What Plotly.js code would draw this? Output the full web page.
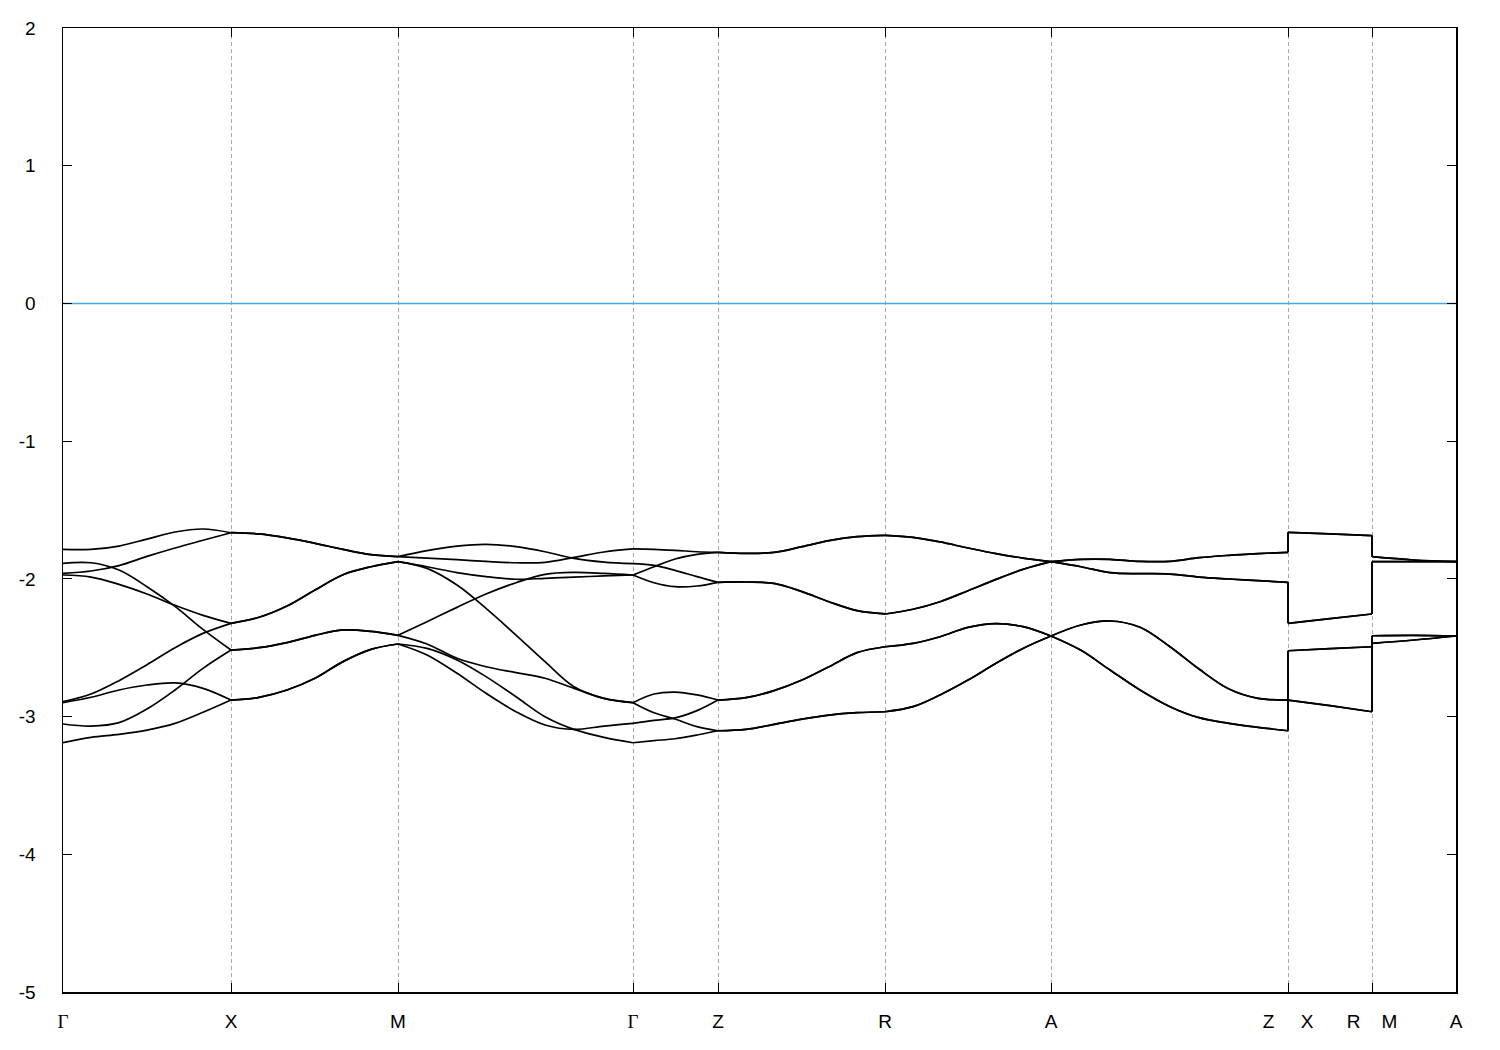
<!DOCTYPE html>
<html>
<head>
<meta charset="utf-8">
<script src="https://cdn.plot.ly/plotly-3.0.1.min.js"></script>
<style>html,body{margin:0;padding:0;background:#fff;}#chart{width:1500px;height:1050px;}</style>
</head>
<body>
<div id="chart"></div>
<script>
// High-symmetry points along the k-path (path length units)
const ticksK = [0, 168, 335, 570, 655, 822, 988, 1225, 1309, 1393];
const GAMMA = '<span style="font-family:Liberation Serif, DejaVu Serif, serif">Γ</span>';
const tickLabels = [GAMMA, 'X', 'M', GAMMA, 'Z', 'R', 'A', 'Z\u00a0\u00a0\u00a0\u00a0\u00a0X', 'R\u00a0\u00a0\u00a0\u00a0M', 'A'];
const yTickVals = [-5, -4, -3, -2, -1, 0, 1, 2];
const yTickText = ['-5', '-4', '-3', '-2', '-1', '0', '1', '2'];
const fermiLevel = 0;

// k samples (a repeated value marks a discontinuity Z|X and R|M)
const kPath = [0,28,56,84,112,140,168, 196,224,252,280,308,335, 364,394,423,453,482,511,541,570,
  591,612,634,655, 683,711,739,766,794,822, 850,877,905,933,960,988,
  1018,1047,1077,1107,1136,1166,1195,1225, 1225,1267,1309, 1309,1351,1393];

// band energies (eV)
const bandA = [-1.786,-1.786,-1.762,-1.711,-1.660,-1.638,-1.665,
  -1.674,-1.703,-1.742,-1.786,-1.824,-1.839,
  -1.795,-1.762,-1.749,-1.766,-1.803,-1.851,-1.878,-1.890,
  -1.902,-1.938,-1.984,-2.025,
  -2.023,-2.033,-2.093,-2.166,-2.231,-2.255,
  -2.221,-2.166,-2.086,-2.004,-1.931,-1.875,
  -1.858,-1.858,-1.873,-1.873,-1.846,-1.829,-1.817,-1.807,
  -1.662,-1.674,-1.686,
  -1.839,-1.863,-1.875];
const bandB = [-1.960,-1.943,-1.904,-1.837,-1.776,-1.720,-1.665,
  -1.674,-1.703,-1.742,-1.786,-1.824,-1.839,
  -1.849,-1.861,-1.873,-1.883,-1.880,-1.844,-1.805,-1.783,
  -1.786,-1.793,-1.803,-1.808,
  -1.815,-1.808,-1.766,-1.723,-1.694,-1.684,
  -1.699,-1.732,-1.776,-1.817,-1.849,-1.875,
  -1.912,-1.955,-1.962,-1.965,-1.987,-2.001,-2.013,-2.025,
  -2.323,-2.289,-2.255,
  -1.875,-1.875,-1.875];
const bandC = [-1.887,-1.883,-1.936,-2.057,-2.200,-2.367,-2.517,
  -2.500,-2.463,-2.410,-2.371,-2.381,-2.410,
  -2.311,-2.207,-2.110,-2.028,-1.967,-1.953,-1.960,-1.972,
  -1.912,-1.856,-1.822,-1.808,
  -1.815,-1.808,-1.766,-1.723,-1.694,-1.684,
  -1.699,-1.732,-1.776,-1.817,-1.849,-1.875,
  -1.912,-1.955,-1.962,-1.965,-1.987,-2.001,-2.013,-2.025,
  -2.323,-2.289,-2.255,
  -1.875,-1.875,-1.875];
const bandD = [-1.972,-1.987,-2.040,-2.110,-2.192,-2.265,-2.323,
  -2.279,-2.197,-2.081,-1.970,-1.912,-1.875,
  -1.912,-1.955,-1.984,-2.003,-1.996,-1.987,-1.979,-1.972,
  -2.028,-2.057,-2.052,-2.025,
  -2.023,-2.033,-2.093,-2.166,-2.231,-2.255,
  -2.221,-2.166,-2.086,-2.004,-1.931,-1.875,
  -1.858,-1.858,-1.873,-1.873,-1.846,-1.829,-1.817,-1.807,
  -1.662,-1.674,-1.686,
  -1.839,-1.863,-1.875];
const bandE = [-2.892,-2.836,-2.739,-2.623,-2.500,-2.396,-2.323,
  -2.279,-2.197,-2.081,-1.970,-1.912,-1.875,
  -1.924,-2.045,-2.214,-2.408,-2.601,-2.783,-2.868,-2.899,
  -2.836,-2.822,-2.843,-2.880,
  -2.863,-2.812,-2.735,-2.638,-2.536,-2.493,
  -2.468,-2.420,-2.352,-2.325,-2.347,-2.415,
  -2.519,-2.662,-2.807,-2.928,-3.008,-3.049,-3.078,-3.103,
  -2.880,-2.921,-2.965,
  -2.468,-2.444,-2.415];
const bandF = [-2.899,-2.860,-2.807,-2.771,-2.756,-2.795,-2.880,
  -2.860,-2.807,-2.722,-2.601,-2.512,-2.473,
  -2.505,-2.589,-2.710,-2.856,-3.001,-3.093,-3.151,-3.190,
  -3.175,-3.161,-3.134,-3.103,
  -3.093,-3.057,-3.018,-2.989,-2.972,-2.965,
  -2.928,-2.843,-2.735,-2.613,-2.505,-2.415,
  -2.335,-2.306,-2.352,-2.493,-2.655,-2.800,-2.868,-2.880,
  -2.522,-2.507,-2.493,
  -2.413,-2.410,-2.415];
const bandG = [-3.054,-3.069,-3.044,-2.945,-2.807,-2.650,-2.517,
  -2.500,-2.463,-2.410,-2.371,-2.381,-2.410,
  -2.473,-2.577,-2.638,-2.681,-2.722,-2.795,-2.868,-2.899,
  -2.972,-3.018,-3.073,-3.103,
  -3.093,-3.057,-3.018,-2.989,-2.972,-2.965,
  -2.928,-2.843,-2.735,-2.613,-2.505,-2.415,
  -2.335,-2.306,-2.352,-2.493,-2.655,-2.800,-2.868,-2.880,
  -2.522,-2.507,-2.493,
  -2.413,-2.410,-2.415];
const bandH = [-3.190,-3.151,-3.129,-3.098,-3.049,-2.969,-2.880,
  -2.860,-2.807,-2.722,-2.601,-2.512,-2.473,
  -2.553,-2.686,-2.831,-2.965,-3.061,-3.093,-3.069,-3.049,
  -3.027,-3.010,-2.957,-2.880,
  -2.863,-2.812,-2.735,-2.638,-2.536,-2.493,
  -2.468,-2.420,-2.352,-2.325,-2.347,-2.415,
  -2.519,-2.662,-2.807,-2.928,-3.008,-3.049,-3.078,-3.103,
  -2.880,-2.921,-2.965,
  -2.468,-2.444,-2.415];

const bands = [bandA, bandB, bandC, bandD, bandE, bandF, bandG, bandH];

function splitBand(k, e) {
  const segs = [], jumps = [];
  let cur = {x: [k[0]], y: [e[0]]};
  for (let i = 1; i < k.length; i++) {
    if (k[i] === k[i - 1]) {
      jumps.push({x: [k[i], k[i]], y: [e[i - 1], e[i]]});
      cur = {x: [k[i]], y: [e[i]]};
      continue;
    }
    cur.x.push(k[i]); cur.y.push(e[i]);
    if (ticksK.includes(k[i]) && i < k.length - 1) {
      segs.push(cur);
      cur = {x: [k[i]], y: [e[i]]};
    }
  }
  segs.push(cur);
  return {segs, jumps};
}

const traces = [];
traces.push({
  x: [kPath[0], kPath[kPath.length - 1]], y: [fermiLevel, fermiLevel],
  mode: 'lines', line: {color: '#4aa8df', width: 1.5}, hoverinfo: 'skip', showlegend: false
});
bands.forEach(b => {
  const {segs, jumps} = splitBand(kPath, b);
  segs.forEach(s => traces.push({
    x: s.x, y: s.y, mode: 'lines',
    line: {color: '#000', width: 1.7, shape: 'spline', smoothing: 1},
    hoverinfo: 'skip', showlegend: false
  }));
  jumps.forEach(s => traces.push({
    x: s.x, y: s.y, mode: 'lines',
    line: {color: '#000', width: 1.7}, hoverinfo: 'skip', showlegend: false
  }));
});

const fontFam = 'Liberation Sans Narrow, Liberation Sans, Arial, sans-serif';
const layout = {
  width: 1500, height: 1050,
  margin: {l: 63, r: 44, t: 28, b: 58},
  paper_bgcolor: '#fff', plot_bgcolor: '#fff',
  showlegend: false,
  font: {family: fontFam, size: 19, color: '#000'},
  xaxis: {
    range: [ticksK[0], ticksK[ticksK.length - 1]],
    tickmode: 'array', tickvals: ticksK, ticktext: tickLabels,
    ticks: 'inside', ticklen: 9, tickwidth: 1, tickcolor: '#000',
    showgrid: true, gridcolor: '#a8a8a8', griddash: '4px,3px', gridwidth: 1,
    zeroline: false, showline: true, linecolor: '#000', linewidth: 1.5,
    mirror: 'allticks', ticklabelstandoff: 12,
    tickfont: {family: fontFam, size: 19, color: '#000'}
  },
  yaxis: {
    range: [-5, 2],
    tickmode: 'array', tickvals: yTickVals, ticktext: yTickText,
    ticks: 'inside', ticklen: 9, tickwidth: 1, tickcolor: '#000',
    showgrid: false, zeroline: false, showline: true, linecolor: '#000', linewidth: 1.5,
    mirror: 'allticks', ticklabelstandoff: 22,
    tickfont: {family: fontFam, size: 19, color: '#000'}
  }
};

Plotly.newPlot('chart', traces, layout, {staticPlot: true, displayModeBar: false});
</script>
</body>
</html>
